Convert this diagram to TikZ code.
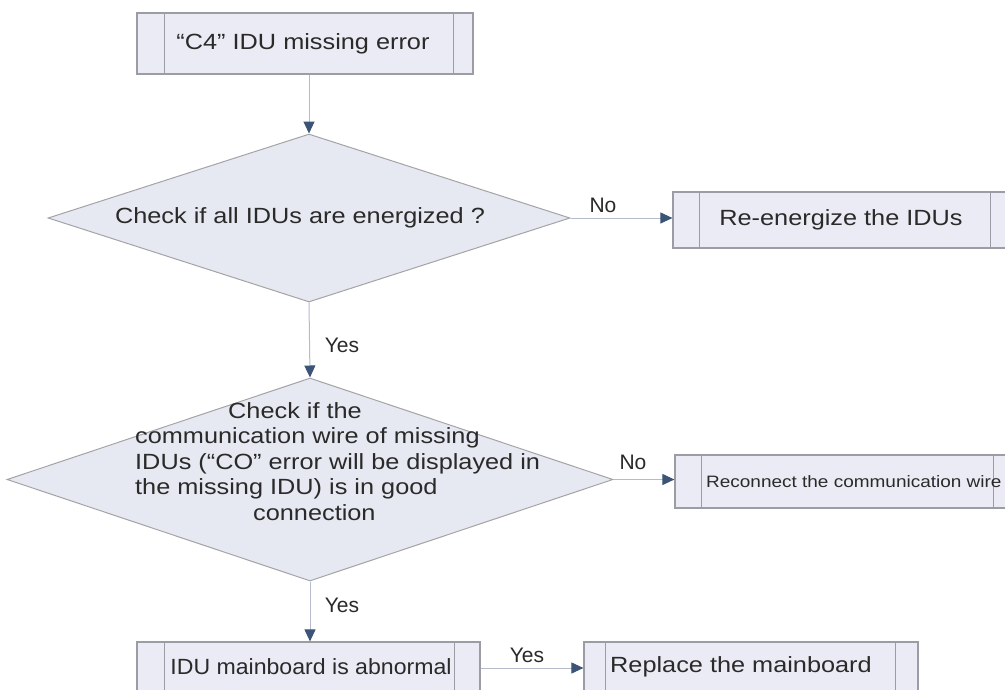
\documentclass[tikz,border=0pt]{standalone}
\usepackage{fontspec}
\setmainfont{Liberation Sans}
\newfontfamily\widefont[FakeStretch=1.15]{Liberation Sans}
\newfontfamily\midfont[FakeStretch=1.05]{Liberation Sans}
\usetikzlibrary{arrows.meta,shapes.geometric}
\definecolor{boxfill}{HTML}{EAEBF4}
\definecolor{boxline}{HTML}{9C9CA4}
\definecolor{dfill}{HTML}{E6E9F1}
\definecolor{dline}{HTML}{A4A4A8}
\definecolor{wire}{HTML}{B4BCCC}
\definecolor{tipc}{HTML}{3C5478}
\definecolor{txt}{HTML}{2A2A2A}
\tikzset{
  procbox/.style={draw=boxline, fill=boxfill, line width=1.2pt, rectangle, inner sep=0pt,
    text=txt, font=\widefont\fontsize{22}{25.5}\selectfont},
  dec/.style={draw=dline, fill=dfill, diamond, line width=1pt, inner sep=0pt},
  flow/.style={draw=wire, line width=1pt, -{Triangle[length=12pt,width=11pt,color=tipc]}},
  lbl/.style={text=txt, font=\fontsize{21}{25}\selectfont, inner sep=0pt},
  dtext/.style={text=txt, font=\widefont\fontsize{22}{25.5}\selectfont, inner sep=0pt},
  innerline/.style={draw=boxline, line width=1pt},
}
\begin{document}
\begin{tikzpicture}[x=1pt,y=-1pt]
\useasboundingbox (0,0) rectangle (1005,689);
\clip (0,0) rectangle (1005,689);
\fill[white] (0,0) rectangle (1005,689);

% process boxes
\node[procbox, minimum width=336pt, minimum height=61pt] (b1) at (305,43.5) {};
\node[procbox, minimum width=337pt, minimum height=56pt] (b2) at (841.5,220) {};
\node[procbox, minimum width=335pt, minimum height=53pt] (b3) at (842.5,481.5) {};
\node[procbox, minimum width=343pt, minimum height=52pt] (b4) at (308.5,668) {};
\node[procbox, minimum width=334pt, minimum height=52pt] (b5) at (751,668) {};

\foreach \b/\l/\r in {b1/28/20, b2/27/20, b3/27/17, b4/28/26, b5/22/23}{
  \draw[innerline] ([xshift=\l pt]\b.north west) -- ([xshift=\l pt]\b.south west);
  \draw[innerline] ([xshift=-\r pt]\b.north east) -- ([xshift=-\r pt]\b.south east);
}

\node[dtext] (t1) at (303,44) {“C4” IDU missing error};
\node[dtext] (t2) at (841,220) {Re-energize the IDUs};
\node[dtext, font=\widefont\fontsize{16.5}{20}\selectfont, anchor=west] (t3) at (706,482) {Reconnect the communication wire};
\node[dtext, font=\midfont\fontsize{22}{25.5}\selectfont] (t4) at (311,667) {IDU mainboard is abnormal};
\node[dtext] (t5) at (741,667) {Replace the mainboard};

% decisions
\node[dec, minimum width=522pt, minimum height=168pt] (d1) at (309,218) {};
\node[dtext] (dt1) at (300,218) {Check if all IDUs are energized ?};
\node[dec, minimum width=606pt, minimum height=203pt] (d2) at (310,479.5) {};
\node[dtext, align=left, anchor=west] (dt2) at (135,461.5)
  {\hspace*{93pt}Check if the\\
   communication wire of missing\\
   IDUs (“CO” error will be displayed in\\
   the missing IDU) is in good\\
   \hspace*{118pt}connection};

% connectors
\draw[flow] (b1.south -| d1.north) -- (d1.north);
\draw[flow] (d1.east) -- (d1.east -| b2.west);
\draw[flow] (d1.south) -- (d2.north);
\draw[flow] (d2.east) -- (d2.east -| b3.west);
\draw[flow] (d2.south) -- (d2.south |- b4.north);
\draw[flow] (b4.east) -- (b5.west);

% labels
\node[lbl] (l1) at (603,205) {No};
\node[lbl] (l2) at (342,345) {Yes};
\node[lbl] (l3) at (633,462) {No};
\node[lbl] (l4) at (342,605) {Yes};
\node[lbl] (l5) at (527,655) {Yes};
\end{tikzpicture}
\end{document}
